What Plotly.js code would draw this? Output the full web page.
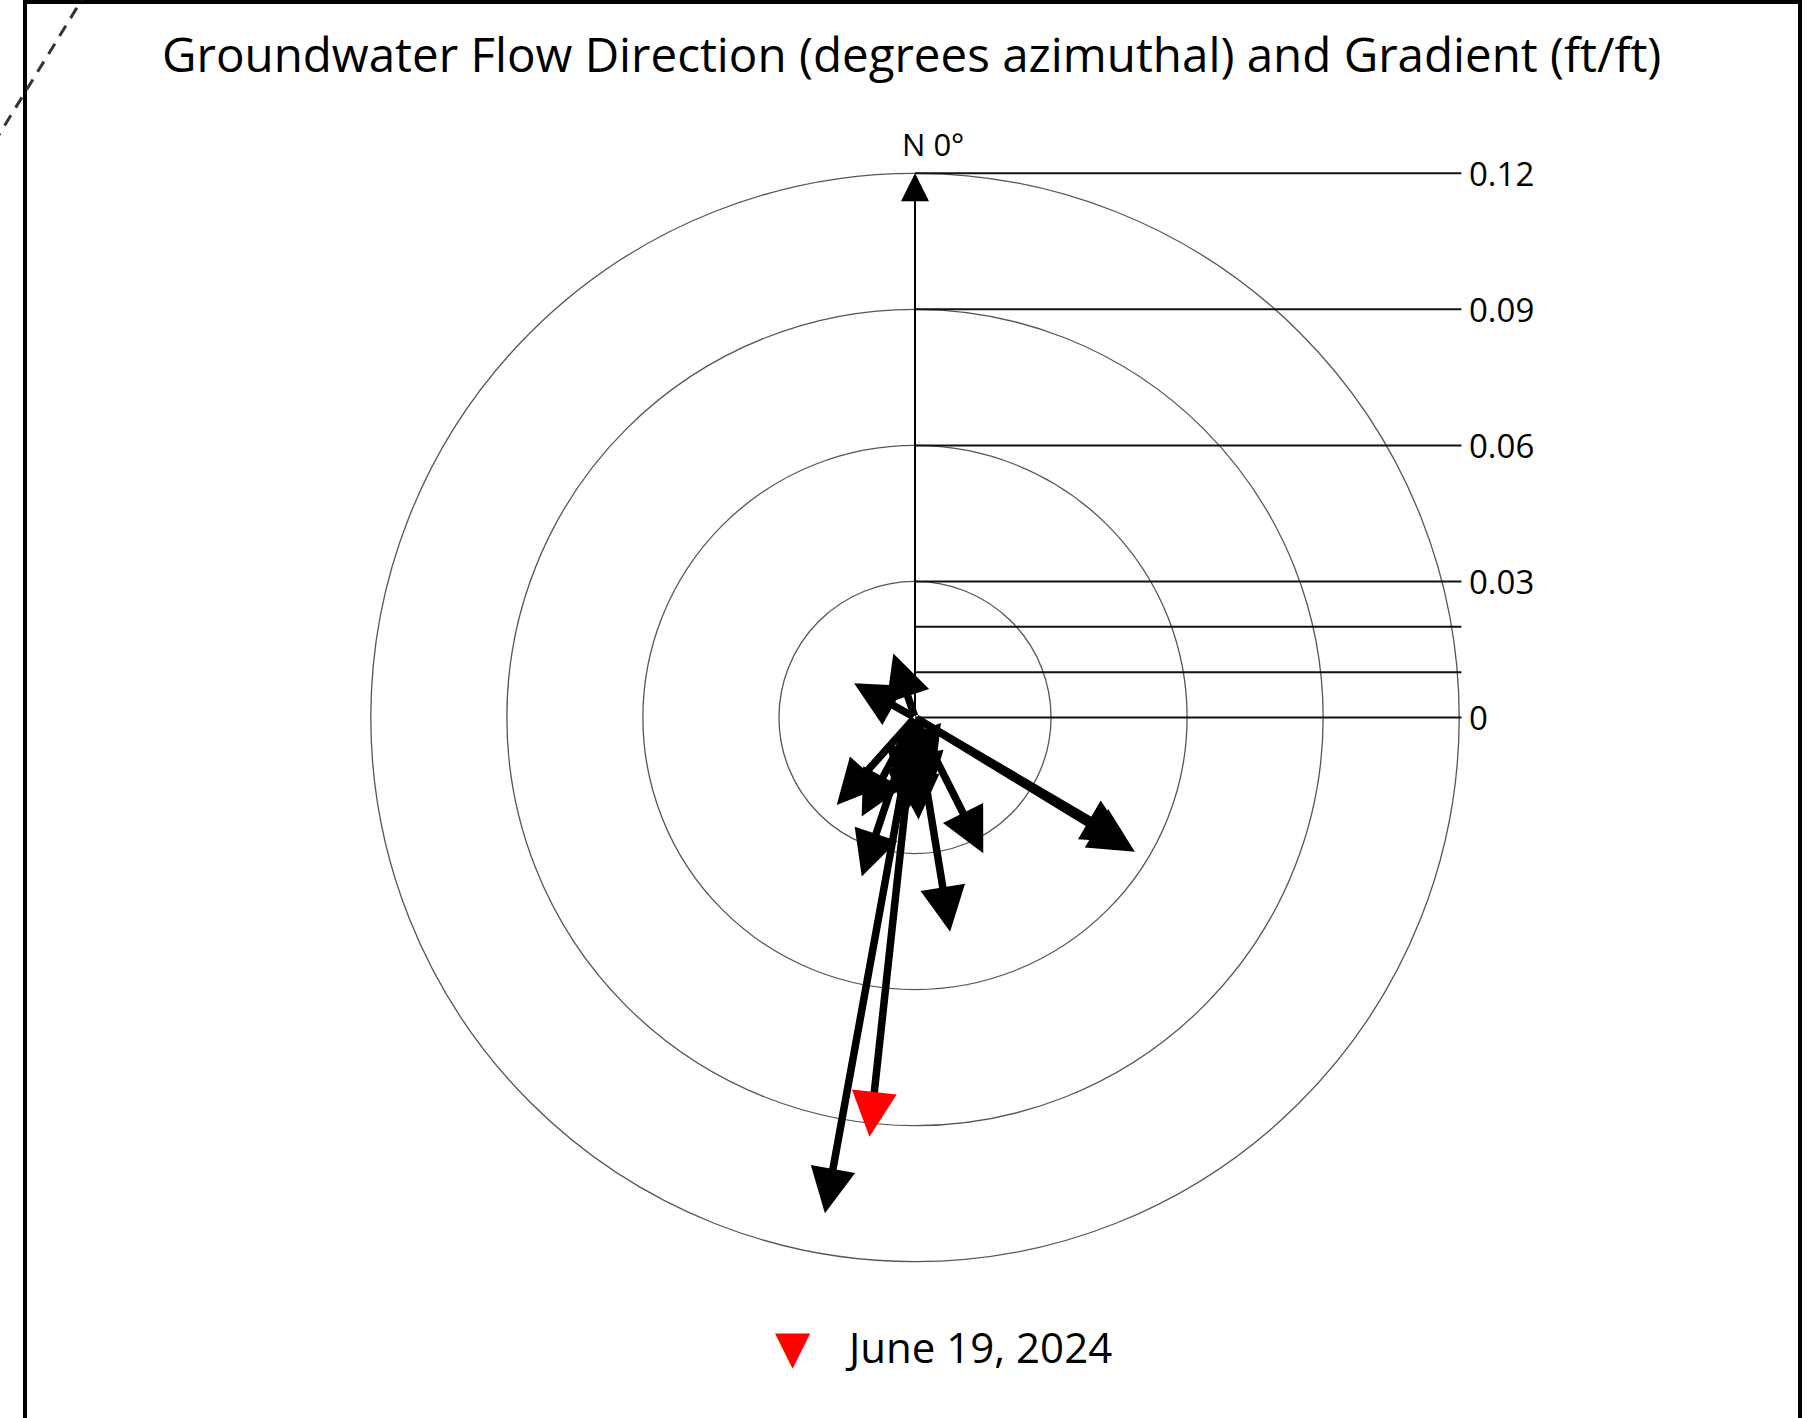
<!DOCTYPE html>
<html><head><meta charset="utf-8">
<script src="https://cdn.plot.ly/plotly-3.0.1.min.js"></script>
<style>html,body{margin:0;padding:0;background:#fff}#chart{width:1813px;height:1418px}</style>
</head><body><div id="chart"></div>
<script>
const chartTitle = 'Groundwater Flow Direction (degrees azimuthal) and Gradient (ft/ft)';
const northLabel = 'N 0°';
const ringGradients = [0.03, 0.06, 0.09, 0.12];
const gridGradients = [0, 0.01, 0.02, 0.03, 0.06, 0.09, 0.12];
const gridLabels = ['0', '', '', '0.03', '0.06', '0.09', '0.12'];
// historical events: flow direction (degrees azimuth) and gradient (ft/ft)
const pastAzimuth  = [190.3, 121.4, 120.4, 170.7, 153.3, 198.5, 208.3, 221.8, 341.3, 299.3, 178, 186, 170, 160, 192];
const pastGradient = [0.1111, 0.0568, 0.0545, 0.0479, 0.0335, 0.0370, 0.0248, 0.0259, 0.0149, 0.0154, 0.0225, 0.0215, 0.018, 0.013, 0.017];
const currentLabel = 'June 19, 2024';
const currentAzimuth = [186.2];
const currentGradient = [0.0930];

const W = 1813, H = 1418;
const PX = 4535;          // pixels per ft/ft
const cx = 915, cy = 717.5;
const xr = [-cx / PX, (W - cx) / PX];
const yr = [-(H - cy) / PX, cy / PX];
const lineEnd = 0.1205;
const font = '"Open Sans", sans-serif';

function toXY(az, g) { const a = az * Math.PI / 180; return [g * Math.sin(a), g * Math.cos(a)]; }

const shapes = [];
ringGradients.forEach(r => shapes.push({type: 'circle', xref: 'x', yref: 'y', x0: -r, x1: r, y0: -r, y1: r,
  line: {color: '#555', width: 1.3}}));
gridGradients.forEach(g => shapes.push({type: 'line', xref: 'x', yref: 'y', x0: 0, x1: lineEnd, y0: g, y1: g,
  line: {color: '#111', width: 2}}));
// frame
shapes.push({type: 'rect', xref: 'paper', yref: 'paper', x0: 25 / W, x1: 1800 / W, y0: -0.02, y1: 1 - 2 / H,
  line: {color: '#000', width: 4}});
// dashed line top-left
shapes.push({type: 'line', xref: 'paper', yref: 'paper', x0: 87.8 / W, y0: 1 + 10 / H, x1: -10.4 / W, y1: 1 - 150 / H,
  line: {color: '#333', width: 3, dash: '12px,9px'}});

const annotations = [];
// north axis arrow
annotations.push({x: 0, y: ringGradients[ringGradients.length - 1], ax: 0, ay: 0, xref: 'x', yref: 'y', axref: 'x', ayref: 'y',
  text: '', showarrow: true, arrowhead: 2, arrowwidth: 2, arrowsize: 2.8, arrowcolor: '#000'});
annotations.push({x: 0.004, y: ringGradients[ringGradients.length - 1], xref: 'x', yref: 'y', text: northLabel, showarrow: false,
  xanchor: 'center', yanchor: 'bottom', yshift: 6, font: {family: font, size: 31, color: '#000'}});
// grid labels
gridGradients.forEach((g, i) => {
  if (!gridLabels[i]) return;
  annotations.push({x: lineEnd, y: g, xref: 'x', yref: 'y', text: gridLabels[i], showarrow: false,
    xanchor: 'left', yanchor: 'middle', xshift: 6, font: {family: font, size: 33, color: '#000'}});
});
// past arrows
pastAzimuth.forEach((az, i) => {
  const [x, y] = toXY(az, pastGradient[i]);
  annotations.push({x: x, y: y, ax: 0, ay: 0, xref: 'x', yref: 'y', axref: 'x', ayref: 'y', text: '', showarrow: true,
    arrowhead: 2, arrowwidth: 7.5, arrowsize: 1.2, arrowcolor: '#000'});
});
// current arrow: black shaft, red head
currentAzimuth.forEach((az, i) => {
  const [x, y] = toXY(az, currentGradient[i]);
  annotations.push({x: x, y: y, ax: 0, ay: 0, xref: 'x', yref: 'y', axref: 'x', ayref: 'y', text: '', showarrow: true,
    arrowhead: 0, arrowwidth: 7.5, arrowcolor: '#000', standoff: 24});
  const [bx, by] = toXY(az, currentGradient[i] - 0.007);
  annotations.push({x: x, y: y, ax: bx, ay: by, xref: 'x', yref: 'y', axref: 'x', ayref: 'y', text: '', showarrow: true,
    arrowhead: 2, arrowwidth: 7.5, arrowsize: 1.2, arrowcolor: '#ff0000'});
});
// legend
annotations.push({x: 793 / W, y: 1 - 1347 / H, xref: 'paper', yref: 'paper', text: '▼', showarrow: false,
  xanchor: 'center', yanchor: 'middle', font: {family: 'DejaVu Sans', size: 46, color: '#ff0000'}});
annotations.push({x: 843 / W, y: 1 - 1346 / H, xref: 'paper', yref: 'paper', text: currentLabel, showarrow: false,
  xanchor: 'left', yanchor: 'middle', font: {family: font, size: 42, color: '#000'}});

const layout = {
  width: W, height: H, margin: {l: 0, r: 0, t: 0, b: 0},
  paper_bgcolor: '#fff', plot_bgcolor: '#fff', showlegend: false,
  title: {text: chartTitle, x: 911.7 / W, y: 1 - 55.5 / H, xanchor: 'center', yanchor: 'middle', xref: 'paper', yref: 'container',
    font: {family: font, size: 47.5, color: '#000'}},
  xaxis: {range: xr, visible: false, fixedrange: true},
  yaxis: {range: yr, visible: false, fixedrange: true},
  shapes: shapes, annotations: annotations
};
Plotly.newPlot('chart', [], layout, {displayModeBar: false, staticPlot: true});
</script></body></html>
